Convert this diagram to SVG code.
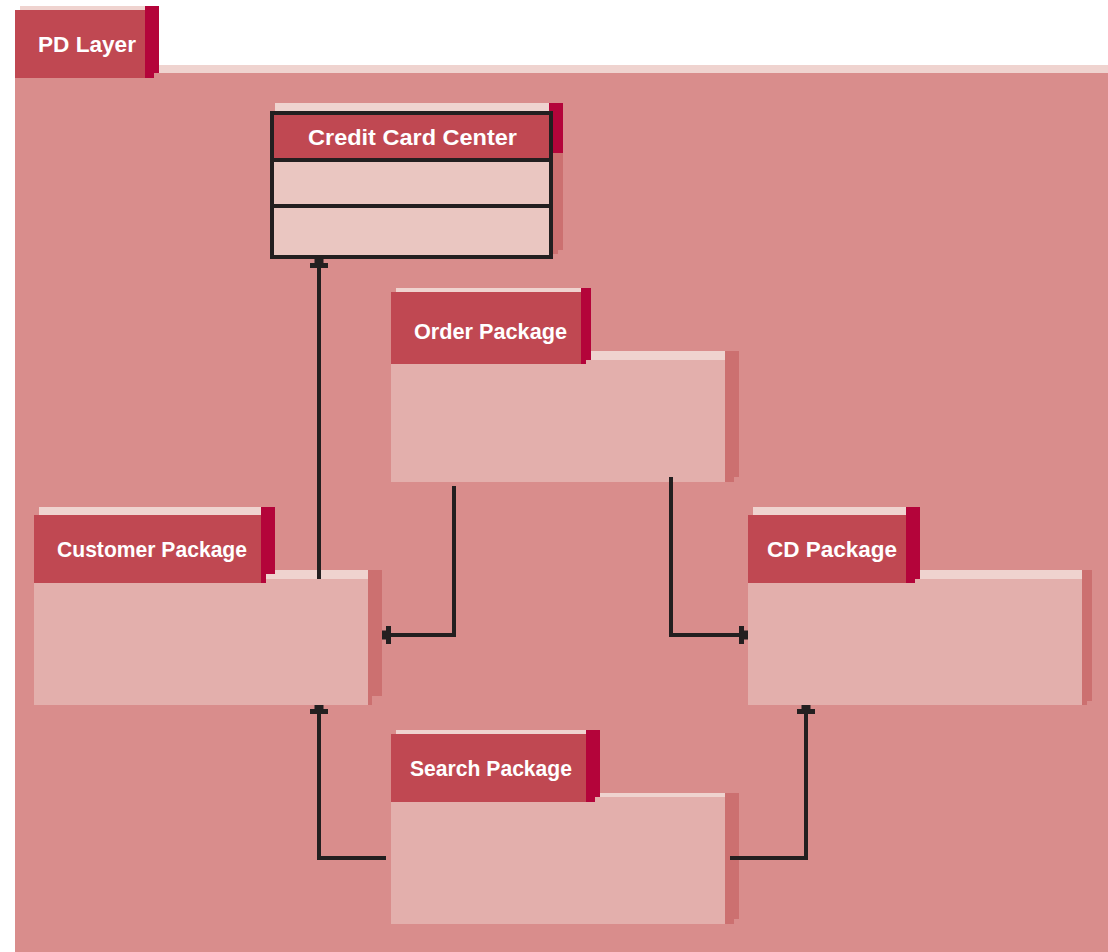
<svg xmlns="http://www.w3.org/2000/svg" width="1108" height="952" viewBox="0 0 1108 952">
<style>
.hl{fill:#efd3cf}.tab{fill:#c04852}.dk{fill:#b4043a}.body{fill:#e3afac}.sh{fill:#cc7070}.cmp{fill:#eac6c1}
.lbl{font-family:"Liberation Sans",Arial,sans-serif;font-weight:bold;font-size:22px;fill:#ffffff}
.con{fill:none;stroke:#231f20;stroke-width:4;stroke-linejoin:miter}
</style>
<defs>
<marker id="ah" markerUnits="userSpaceOnUse" markerWidth="24" markerHeight="24" viewBox="-12 -12 24 24" refX="0" refY="0" orient="auto">
<path d="M0,-4.5 L0,4.5 L-4,4.5 L-4,9 L-9,9 L-9,-9 L-4,-9 L-4,-4.5 Z" fill="#231f20"/>
</marker>
</defs>
<rect width="1108" height="952" fill="#ffffff"/>
<g id="pd-layer">
<rect class="hl" x="159" y="65" width="949" height="8"/>
<rect x="15" y="73" width="1093" height="879" fill="#d98d8c"/>
<rect class="hl" x="20" y="6" width="130" height="4"/>
<rect class="tab" x="15" y="10" width="130" height="68"/>
<polygon class="dk" points="145,6 159,6 159,73 154,73 154,78 145,78"/>
<text class="lbl" x="38" y="52" textLength="98" lengthAdjust="spacingAndGlyphs">PD Layer</text>
</g>
<g id="credit-card-center">
<rect class="hl" x="275" y="103" width="278" height="8"/>
<polygon class="dk" points="549,103 563,103 563,153 558,153 558,158 549,158"/>
<polygon class="sh" points="553,153 563,153 563,250 558,250 558,254 553,254"/>
<rect x="270" y="111" width="283" height="148" fill="#231f20"/>
<rect class="tab" x="274" y="115" width="275" height="43"/>
<rect class="cmp" x="274" y="162" width="275" height="42"/>
<rect class="cmp" x="274" y="208" width="275" height="47"/>
<text class="lbl" x="308" y="145" textLength="209" lengthAdjust="spacingAndGlyphs">Credit Card Center</text>
</g>
<g id="order-package">
<rect class="hl" x="586" y="351" width="144" height="9"/>
<polygon class="sh" points="725,351 739,351 739,477 734,477 734,482 725,482"/>
<rect class="body" x="391" y="360" width="334" height="122"/>
<rect class="hl" x="396" y="288" width="190" height="4"/>
<rect class="tab" x="391" y="292" width="190" height="72"/>
<polygon class="dk" points="581,288 591,288 591,360 586,360 586,364 581,364"/>
<text class="lbl" x="414" y="339" textLength="153" lengthAdjust="spacingAndGlyphs">Order Package</text>
</g>
<g id="customer-package">
<rect class="hl" x="266" y="570" width="111" height="9"/>
<polygon class="sh" points="368,570 382,570 382,696 372,696 372,705 368,705"/>
<rect class="body" x="34" y="579" width="334" height="126"/>
<rect class="hl" x="39" y="507" width="227" height="8"/>
<rect class="tab" x="34" y="515" width="227" height="68"/>
<polygon class="dk" points="261,507 275,507 275,574 266,574 266,583 261,583"/>
<text class="lbl" x="57" y="557" textLength="190" lengthAdjust="spacingAndGlyphs">Customer Package</text>
</g>
<g id="cd-package">
<rect class="hl" x="915" y="570" width="172" height="9"/>
<polygon class="sh" points="1082,570 1092,570 1092,701 1087,701 1087,705 1082,705"/>
<rect class="body" x="748" y="579" width="334" height="126"/>
<rect class="hl" x="753" y="507" width="162" height="8"/>
<rect class="tab" x="748" y="515" width="158" height="68"/>
<polygon class="dk" points="906,507 920,507 920,579 915,579 915,583 906,583"/>
<text class="lbl" x="767" y="557" textLength="130" lengthAdjust="spacingAndGlyphs">CD Package</text>
</g>
<g id="search-package">
<rect class="hl" x="600" y="793" width="130" height="4"/>
<polygon class="sh" points="725,793 739,793 739,919 734,919 734,924 725,924"/>
<rect class="body" x="391" y="797" width="334" height="127"/>
<rect class="hl" x="396" y="730" width="195" height="4"/>
<rect class="tab" x="391" y="734" width="195" height="68"/>
<polygon class="dk" points="586,730 600,730 600,797 595,797 595,802 586,802"/>
<text class="lbl" x="410" y="776" textLength="162" lengthAdjust="spacingAndGlyphs">Search Package</text>
</g>
<g id="connectors">
<path class="con" d="M319,579 V259" marker-end="url(#ah)"/>
<path class="con" d="M454,486 V635 H382" marker-end="url(#ah)"/>
<path class="con" d="M671,477 V635 H748" marker-end="url(#ah)"/>
<path class="con" d="M386,858 H319 V705" marker-end="url(#ah)"/>
<path class="con" d="M730,858 H806 V705" marker-end="url(#ah)"/>
</g>
</svg>
